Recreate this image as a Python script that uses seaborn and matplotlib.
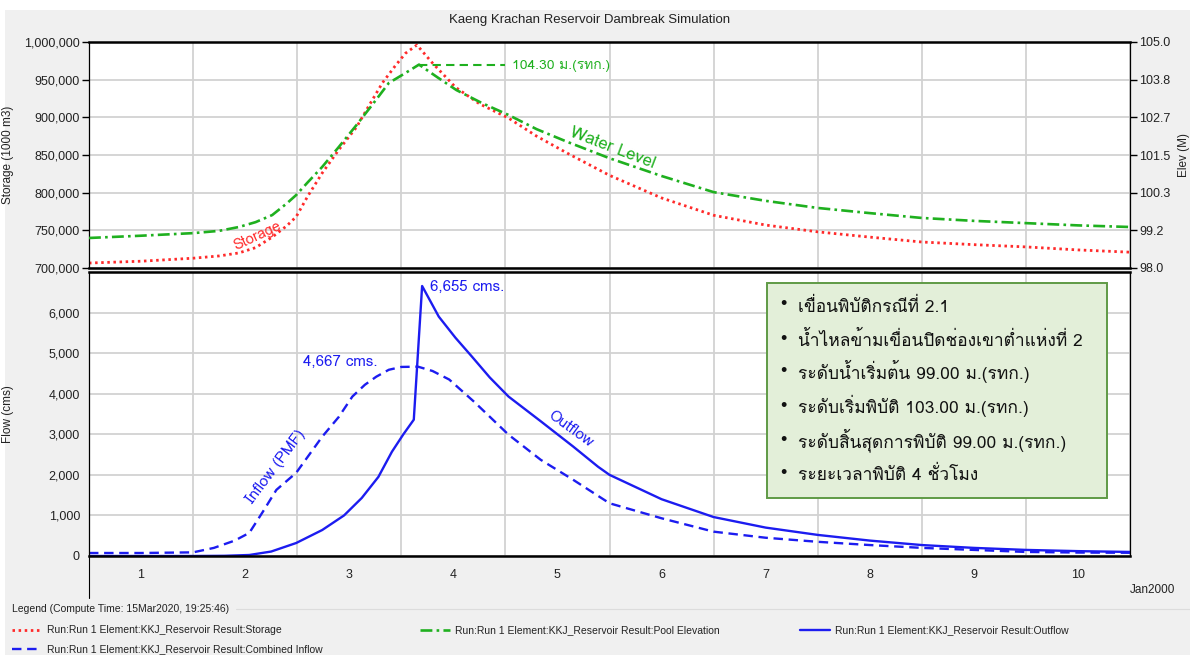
import numpy as np
import matplotlib
matplotlib.use("Agg")
import matplotlib.pyplot as plt
import seaborn as sns
from matplotlib import font_manager
from matplotlib.lines import Line2D
from matplotlib.patches import Rectangle
from matplotlib.ticker import FuncFormatter, FixedLocator

# data (x in days from 1 Jan 2000 00:00)
storage_t = [0, 0.5, 1.0, 1.25, 1.44, 1.6, 1.76, 1.9, 1.99, 2.1, 2.24, 2.4, 2.57, 2.7, 2.82,
             2.94, 3.04, 3.15, 3.3, 3.52, 3.75, 4.03, 4.3, 4.6, 5.0, 5.5, 6.0, 6.5, 7.0, 7.5,
             8.0, 8.5, 9.0, 9.5, 10.0]
storage = [706600, 709000, 713000, 716000, 720000, 727000, 741000, 756000, 768000, 795000,
           826000, 857000, 887000, 918000, 946000, 968000, 985000, 996000, 972000, 940000,
           918000, 899000, 875000, 852000, 823000, 793000, 770000, 757000, 748000, 741000,
           734500, 731000, 728000, 724000, 721000]

elev_t = [0, 0.5, 1.0, 1.25, 1.44, 1.6, 1.76, 1.9, 1.99, 2.1, 2.24, 2.4, 2.57, 2.72, 2.88,
          3.03, 3.17, 3.35, 3.53, 3.78, 4.03, 4.3, 4.6, 5.0, 5.5, 6.0, 6.5, 7.0, 7.5, 8.0,
          8.5, 9.0, 9.5, 10.0]
elev = [98.93, 99.0, 99.08, 99.15, 99.27, 99.42, 99.64, 100.0, 100.26, 100.65, 101.13,
        101.75, 102.43, 103.05, 103.73, 104.02, 104.30, 103.9, 103.51, 103.1, 102.74, 102.3,
        101.9, 101.4, 100.85, 100.35, 100.08, 99.86, 99.7, 99.55, 99.46, 99.39, 99.32, 99.27]

inflow_t = [0, 0.5, 1.0, 1.2, 1.4, 1.54, 1.67, 1.8, 1.99, 2.24, 2.4, 2.53, 2.65, 2.76, 2.88,
            3.0, 3.16, 3.3, 3.46, 3.7, 4.03, 4.34, 4.65, 5.0, 5.5, 6.0, 6.5, 7.0, 7.5, 8.0,
            8.5, 9.0, 9.5, 10.0]
inflow = [74, 74, 90, 200, 380, 570, 1090, 1630, 2050, 2940, 3430, 3930, 4220, 4420, 4590,
          4660, 4667, 4560, 4350, 3800, 2990, 2370, 1880, 1300, 930, 600, 450, 350, 270, 200,
          150, 100, 85, 80]

outflow_t = [0, 1.0, 1.3, 1.54, 1.75, 1.99, 2.24, 2.45, 2.62, 2.78, 2.91, 3.02, 3.12, 3.20,
             3.36, 3.52, 3.68, 3.85, 4.03, 4.34, 4.65, 4.89, 5.0, 5.5, 6.0, 6.5, 7.0, 7.5,
             8.0, 8.5, 9.0, 9.5, 10.0]
outflow = [0, 0, 5, 25, 110, 320, 640, 1000, 1430, 1950, 2570, 3000, 3360, 6655, 5900, 5380,
           4910, 4400, 3930, 3320, 2700, 2200, 2000, 1400, 960, 700, 520, 380, 270, 200, 150,
           120, 100]

day_labels = [str(d) for d in range(1, 11)]
storage_ticks = [700000, 750000, 800000, 850000, 900000, 950000, 1000000]
flow_ticks = [0, 1000, 2000, 3000, 4000, 5000, 6000]

notes = ["เขื่อนพิบัติกรณีที่ 2.1",
         "น้ำไหลข้ามเขื่อนปิดช่องเขาต่ำแห่งที่ 2",
         "ระดับน้ำเริ่มต้น 99.00 ม.(รทก.)",
         "ระดับเริ่มพิบัติ 103.00 ม.(รทก.)",
         "ระดับสิ้นสุดการพิบัติ 99.00 ม.(รทก.)",
         "ระยะเวลาพิบัติ 4 ชั่วโมง"]

legend_names = ["Run:Run 1 Element:KKJ_Reservoir Result:Storage",
                "Run:Run 1 Element:KKJ_Reservoir Result:Pool Elevation",
                "Run:Run 1 Element:KKJ_Reservoir Result:Outflow",
                "Run:Run 1 Element:KKJ_Reservoir Result:Combined Inflow"]

RED = "#ff2a2a"
GREEN = "#1fb01f"
BLUE = "#1c1cf0"
DOTS = (0, (0.9, 1.3))
DASHDOT = (0, (4.5, 1.6, 1.0, 1.6))
DASHED = (0, (4.0, 2.4))

sns.set_theme(style="white")
installed = {f.name for f in font_manager.fontManager.ttflist}
thai = [n for n in ("Loma", "Noto Sans Thai Looped", "IBM Plex Sans Thai Looped") if n in installed]
plain = ['Liberation Sans', 'DejaVu Sans']
thai_family = thai[:1] + ['DejaVu Sans']
plt.rcParams['font.family'] = plain

W, H = 1190, 655
fig = plt.figure(figsize=(W / 100, H / 100), dpi=100, facecolor="white")
fig.add_artist(Rectangle((5 / W, 0), 1, 1 - 10 / H, transform=fig.transFigure,
                         facecolor="#f0f0f0", edgecolor="none", zorder=-10))

def fx(px):
    return px / W

def fy(py):
    return 1 - py / H

ax1 = fig.add_axes([fx(89), fy(268), fx(1130) - fx(89), fy(42) - fy(268)])
ax3 = fig.add_axes([fx(89), fy(556), fx(1130) - fx(89), fy(272) - fy(556)])
ax2 = ax1.twinx()

sns.lineplot(x=storage_t, y=storage, ax=ax1, color=RED, lw=2.0, linestyle=DOTS)
sns.lineplot(x=elev_t, y=elev, ax=ax2, color=GREEN, lw=1.9, linestyle=DASHDOT)
sns.lineplot(x=inflow_t, y=inflow, ax=ax3, color=BLUE, lw=1.7, linestyle=DASHED)
sns.lineplot(x=outflow_t, y=outflow, ax=ax3, color=BLUE, lw=1.7)

for ax in (ax1, ax3):
    ax.set_xlim(0, 10)
    ax.xaxis.set_major_locator(FixedLocator(range(0, 11)))
    ax.grid(True, axis="both", color="#d2d2d2", lw=1.3)
    ax.set_axisbelow(True)
    for s in ("left", "right"):
        ax.spines[s].set_color("black")
        ax.spines[s].set_linewidth(0.9)
    for s in ("top", "bottom"):
        ax.spines[s].set_color("black")
        ax.spines[s].set_linewidth(1.8)
    ax.tick_params(axis="y", which="major", direction="out", length=5, width=1,
                   color="black", pad=1.5, labelsize=9, labelcolor="#222222")

ax1.set_ylim(700000, 1000000)
ax1.set_yticks(storage_ticks)
ax1.yaxis.set_major_formatter(FuncFormatter(lambda v, p: f"{v:,.0f}"))
ax1.tick_params(axis="x", which="both", length=0, labelbottom=False)

ax2.set_ylim(98, 105)
ax2.set_yticks(np.linspace(98, 105, 7))
ax2.yaxis.set_major_formatter(FuncFormatter(lambda v, p: f"{v:.1f}"))
ax2.tick_params(axis="y", direction="out", length=5, width=1, color="black", pad=1.5,
                labelsize=9, labelcolor="#222222")
ax2.grid(False)
for s in ax2.spines.values():
    s.set_visible(False)

ax3.set_ylim(0, 7000)
ax3.set_yticks(flow_ticks)
ax3.yaxis.set_major_formatter(FuncFormatter(lambda v, p: f"{v:,.0f}"))
ax3.xaxis.set_minor_locator(FixedLocator(np.arange(0.5, 10, 1)))
ax3.xaxis.set_major_formatter(FuncFormatter(lambda v, p: ""))
ax3.set_xticklabels(day_labels, minor=True)
ax3.tick_params(axis="x", which="major", direction="out", length=12, width=1, color="black")
ax3.tick_params(axis="x", which="minor", length=0, pad=9, labelsize=9, labelcolor="#222222")

for ax, txt in ((ax1, "Storage (1000 m3)"), (ax3, "Flow (cms)")):
    ax.set_ylabel(txt, fontsize=8.5, color="#222222")
    ax.yaxis.set_label_coords((14 - 89) / 1041, 0.5)
ax2.set_ylabel("Elev (M)", fontsize=8.5, color="#222222", rotation=90)
ax2.yaxis.set_label_coords((1178 - 89) / 1041, 0.5)
for ax in (ax1, ax2, ax3):
    ax.set_xlabel("")

fig.text(fx(590), fy(20), "Kaeng Krachan Reservoir Dambreak Simulation", ha="center",
         va="center", fontsize=9.5, color="#222222")
fig.text(fx(1175), fy(590), "Jan2000", ha="right", va="center", fontsize=8.5,
         color="#222222")
fig.add_artist(Line2D([fx(89), fx(89)], [fy(556), fy(598)], color="black", lw=0.8))

# top panel annotations
i = int(np.argmax(elev))
ax2.plot([elev_t[i], 4.0], [elev[i], elev[i]], color=GREEN, lw=1.5, ls=(0, (4, 2.5)))
ax2.text(4.06, elev[i] - 0.04, f"{elev[i]:.2f} ม.(รทก.)", color=GREEN, fontsize=10,
         family=thai_family, ha="left", va="center")
ax2.text(5.03, 101.7, "Water Level", color=GREEN, fontsize=12, family=thai_family,
         rotation=-21, rotation_mode="anchor", ha="center", va="center")
ax1.text(1.62, 742000, "Storage", color=RED, fontsize=10.5, family=thai_family,
         rotation=25, rotation_mode="anchor", ha="center", va="center")

# bottom panel annotations
j = int(np.argmax(inflow))
ax3.text(2.77, 4790, f"{inflow[j]:,} cms.", color=BLUE, fontsize=10.8,
         family=thai_family, ha="right", va="center")
k = int(np.argmax(outflow))
ax3.text(outflow_t[k] + 0.08, 6640, f"{outflow[k]:,} cms.", color=BLUE, fontsize=10.8,
         family=thai_family, ha="left", va="center")
ax3.text(1.80, 2200, "Inflow (PMF)", color=BLUE, fontsize=11, family=thai_family,
         rotation=53, rotation_mode="anchor", ha="center", va="center")
ax3.text(4.63, 3140, "Outflow", color=BLUE, fontsize=11, family=thai_family,
         rotation=-36, rotation_mode="anchor", ha="center", va="center")

# note box
ax3.add_patch(Rectangle((0.651, 0.204), 0.327, 0.757, transform=ax3.transAxes,
                        facecolor="#e3efd9", edgecolor="#5f9a45", lw=1.4, zorder=5))
bullet_rows = [0.884, 0.764, 0.648, 0.528, 0.408, 0.292]
base_rows = [0.860, 0.740, 0.624, 0.504, 0.384, 0.268]
for yb, yt, note in zip(bullet_rows, base_rows, notes):
    ax3.text(0.667, yb, "•", transform=ax3.transAxes, fontsize=13,
             color="#111111", ha="center", va="center", zorder=6)
    ax3.text(0.681, yt, note, transform=ax3.transAxes, fontsize=12.5, family=thai_family,
             color="#111111", ha="left", va="baseline", zorder=6)

# legend box at bottom
fig.text(fx(12), fy(609), "Legend (Compute Time: 15Mar2020, 19:25:46)", fontsize=7.5,
         color="#222222", ha="left", va="center")
fig.add_artist(Line2D([fx(236), 1], [fy(609), fy(609)], color="#dcdcdc", lw=0.8))
entries = [(12, 630, RED, DOTS, 2.0, legend_names[0]),
           (420, 630, GREEN, DASHDOT, 1.9, legend_names[1]),
           (800, 630, BLUE, "-", 1.7, legend_names[2]),
           (12, 649, BLUE, DASHED, 1.7, legend_names[3])]
for px, py, c, ls, lw, name in entries:
    fig.add_artist(Line2D([fx(px), fx(px + 30)], [fy(py), fy(py)], color=c, ls=ls, lw=lw))
    fig.text(fx(px + 35), fy(py), name, fontsize=7.5, color="#222222",
             ha="left", va="center")

fig.savefig("out.png", dpi=100, facecolor=fig.get_facecolor())
